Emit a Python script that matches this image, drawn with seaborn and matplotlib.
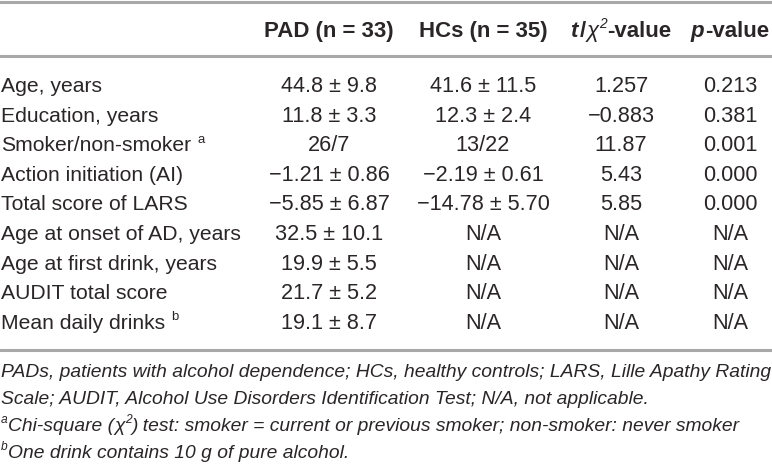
import matplotlib
matplotlib.use("Agg")
import matplotlib.pyplot as plt
import seaborn as sns

sns.set_theme(style="white")
plt.rcParams['font.family'] = ['Liberation Sans', 'DejaVu Sans']

# ---------------- data ----------------
row_labels = ["Age, years", "Education, years", "Smoker/non-smoker",
              "Action initiation (AI)", "Total score of LARS",
              "Age at onset of AD, years", "Age at first drink, years",
              "AUDIT total score", "Mean daily drinks"]
row_label_notes = ["", "", "a", "", "", "", "", "", "b"]
pad_values = ["44.8 ± 9.8", "11.8 ± 3.3", "26/7", "−1.21 ± 0.86", "−5.85 ± 6.87",
              "32.5 ± 10.1", "19.9 ± 5.5", "21.7 ± 5.2", "19.1 ± 8.7"]
hc_values = ["41.6 ± 11.5", "12.3 ± 2.4", "13/22", "−2.19 ± 0.61", "−14.78 ± 5.70",
             "N/A", "N/A", "N/A", "N/A"]
t_values = ["1.257", "−0.883", "11.87", "5.43", "5.85", "N/A", "N/A", "N/A", "N/A"]
p_values = ["0.213", "0.381", "0.001", "0.000", "0.000", "N/A", "N/A", "N/A", "N/A"]
footnote_lines = [
    "PADs, patients with alcohol dependence; HCs, healthy controls; LARS, Lille Apathy Rating",
    "Scale; AUDIT, Alcohol Use Disorders Identification Test; N/A, not applicable.",
]
footnote_a = ") test: smoker = current or previous smoker; non-smoker: never smoker"
footnote_b = "One drink contains 10 g of pure alcohol."

# ---------------- layout ----------------
W, H = 772, 469
TXT = "#2a2627"
RULE = "#a8a8a8"
FS = 15.2     # body labels
VFS = 15.6    # body values
HFS = 16.0    # header
FFS = 13.9    # footnotes
col_x = [329, 483, 621, 730]

fig = plt.figure(figsize=(W / 100, H / 100), dpi=100)
ax = fig.add_axes([0, 0, 1, 1])
ax.set_xlim(0, W)
ax.set_ylim(H, 0)
ax.axis("off")
renderer = fig.canvas.get_renderer()


def runs_text(x, y, runs, ha="left", fs=FS):
    """runs: list of (text, style dict, superscript flag, gap_before)"""
    arts = []
    cur = 0.0
    for txt, style, sup, gap in runs:
        size = fs * 0.62 if sup else fs
        dy = -fs * 0.55 if sup else 0
        t = ax.text(0, y + dy, txt, fontsize=size, va="baseline", ha="left",
                    color=TXT, **style)
        w = t.get_window_extent(renderer).width
        cur += gap
        arts.append((t, cur))
        cur += w
    total = cur
    off = x if ha == "left" else (x - total / 2 if ha == "center" else x - total)
    for t, pos in arts:
        t.set_x(off + pos)
    return total


# rules
for yy in (2, 56, 350):
    ax.axhline(yy, color=RULE, lw=2.2)

# header
HB = 37
B = {"fontweight": "bold"}
BI = {"fontweight": "bold", "fontstyle": "italic"}
I = {"fontstyle": "italic"}
runs_text(col_x[0], HB, [("PAD (n = 33)", B, False, 0)], ha="center", fs=HFS)
runs_text(col_x[1], HB, [("HCs (n = 35)", B, False, 0)], ha="center", fs=HFS)
runs_text(col_x[2], HB, [("t", BI, False, 0), ("/", B, False, 2.0), ("χ", I, False, 0.5),
                         ("2", I, True, 0.5), ("-value", B, False, 1.0)],
          ha="center", fs=HFS)
runs_text(col_x[3], HB, [("p", BI, False, 0), ("-value", B, False, 0.5)],
          ha="center", fs=HFS)

# body
y0, dy = 92, 29.6
for i, lab in enumerate(row_labels):
    y = y0 + i * dy
    runs = [(lab, {}, False, 0)]
    if row_label_notes[i]:
        runs.append((row_label_notes[i], {}, True, 6))
    runs_text(1, y, runs)
    for cx, vals in zip(col_x, (pad_values, hc_values, t_values, p_values)):
        ax.text(cx, y, vals[i], fontsize=VFS, va="baseline", ha="center", color=TXT)

# footnotes
fy0, fdy = 377, 27
for k, line in enumerate(footnote_lines):
    runs_text(1, fy0 + k * fdy, [(line, I, False, 0)], fs=FFS)
runs_text(1, fy0 + 2 * fdy, [("a", I, True, 0), ("Chi-square (", I, False, 0.5),
                             ("χ", I, False, 0), ("2", I, True, 0.5),
                             (footnote_a, I, False, 0.5)], fs=FFS)
runs_text(1, fy0 + 3 * fdy, [("b", I, True, 0), (footnote_b, I, False, 0.5)], fs=FFS)

fig.savefig("out.png", dpi=100, facecolor="white")
